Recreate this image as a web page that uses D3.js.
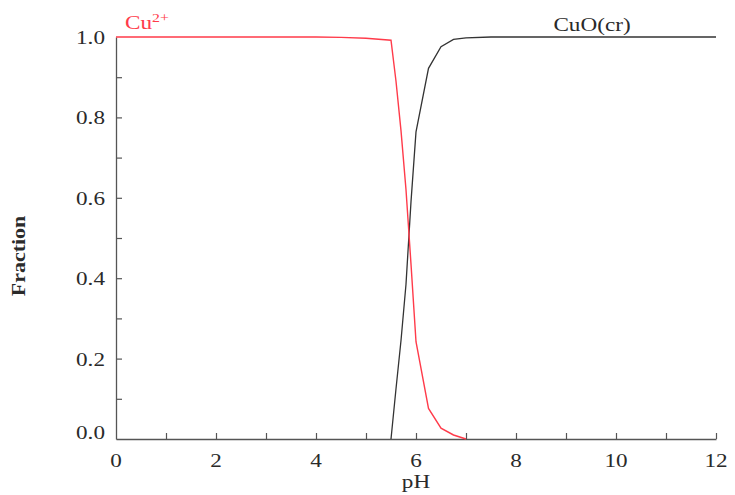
<!DOCTYPE html>
<html>
<head>
<meta charset="utf-8">
<script src="https://cdn.jsdelivr.net/npm/d3@7"></script>
<style>
  body { margin: 0; background: #fff; }
  svg { font-family: "Liberation Serif", "DejaVu Serif", serif; }
</style>
</head>
<body>
<div id="chart"></div>
<script>
// species fractions
var cuIonPH   = [0, 1, 2, 3, 4, 4.5, 5, 5.5, 5.6, 5.7, 5.8, 5.9, 6.0, 6.25, 6.5, 6.75, 7.0];
var cuIonFrac = [1, 1, 1, 1, 1, 0.999, 0.997, 0.992, 0.89, 0.767, 0.62, 0.435, 0.242, 0.076, 0.027, 0.01, 0.0];

var cuoPH   = [5.5, 5.6, 5.7, 5.8, 5.9, 6.0, 6.25, 6.5, 6.75, 7.0, 7.5, 8, 9, 10, 11, 12];
var cuoFrac = [0.0, 0.125, 0.245, 0.385, 0.59, 0.764, 0.922, 0.976, 0.994, 0.998, 1, 1, 1, 1, 1, 1];

var xTicks = [0, 1, 2, 3, 4, 5, 6, 7, 8, 9, 10, 11, 12];
var xLabels = [0, 2, 4, 6, 8, 10, 12];
var yTicks = [0, 0.1, 0.2, 0.3, 0.4, 0.5, 0.6, 0.7, 0.8, 0.9, 1.0];
var yLabels = [0, 0.2, 0.4, 0.6, 0.8, 1.0];

var W = 735, H = 495;
var margin = {top: 37, right: 19, bottom: 56, left: 116};
var width = W - margin.left - margin.right,
    height = H - margin.top - margin.bottom;
var sx = 1.22; // the original text looks stretched sideways

var svg = d3.select("#chart")
    .append("svg")
    .attr("width", W)
    .attr("height", H);

var g = svg.append("g")
    .attr("transform", "translate(" + margin.left + "," + margin.top + ")");

var x = d3.scaleLinear()
    .domain([0, 12])
    .range([0, width]);

var y = d3.scaleLinear()
    .domain([0, 1])
    .range([height, 0]);

function put(px, py, rot) {
    return "translate(" + px + "," + py + ")" + (rot ? " rotate(" + rot + ")" : "") + " scale(" + sx + ",1)";
}

// axes, ticks pointing inward
var xAxis = g.append("g")
    .attr("transform", "translate(0," + height + ")")
    .call(d3.axisBottom(x).tickValues(xTicks).tickSize(-6).tickSizeOuter(0).tickFormat(""));
xAxis.select(".domain").attr("stroke", "#555").attr("stroke-width", 1.3);
xAxis.selectAll(".tick line").attr("stroke", "#555").attr("stroke-width", 1.2);
xAxis.selectAll(".tick").filter(function(d){ return d === 0; }).remove();

var yAxis = g.append("g")
    .call(d3.axisLeft(y).tickValues(yTicks).tickSize(-6).tickSizeOuter(0).tickFormat(""));
yAxis.select(".domain").attr("stroke", "#555").attr("stroke-width", 1.3);
yAxis.selectAll(".tick line").attr("stroke", "#555").attr("stroke-width", 1.2);
yAxis.selectAll(".tick").filter(function(d){ return d === 0 || d === 1; }).remove();

g.selectAll(".xlab")
    .data(xLabels)
    .enter().append("text")
    .attr("transform", function(d){ return put(x(d), height + 28); })
    .attr("text-anchor", "middle")
    .style("font-size", "19px")
    .style("fill", "#2a2a2a")
    .text(function(d){ return d; });

g.selectAll(".ylab")
    .data(yLabels)
    .enter().append("text")
    .attr("transform", function(d){ return put(-11, y(d) + (d === 0 ? 0 : 7)); })
    .attr("text-anchor", "end")
    .style("font-size", "19px")
    .style("fill", "#2a2a2a")
    .text(function(d){ return d.toFixed(1); });

g.append("text")
    .attr("transform", put(x(6), height + 49))
    .attr("text-anchor", "middle")
    .style("font-size", "19px")
    .style("fill", "#2a2a2a")
    .text("pH");

g.append("text")
    .attr("transform", put(-91, 219, -90))
    .attr("text-anchor", "middle")
    .style("font-size", "18px")
    .style("font-weight", "bold")
    .style("fill", "#2a2a2a")
    .text("Fraction");

var line = d3.line()
    .x(function(d){ return x(d[0]); })
    .y(function(d){ return y(d[1]); });

var cuIon = d3.zip(cuIonPH, cuIonFrac);
var cuo = d3.zip(cuoPH, cuoFrac);

g.append("path")
    .datum(cuo)
    .attr("d", line)
    .style("fill", "none")
    .style("stroke", "#333")
    .style("stroke-width", "1.3px");

g.append("path")
    .datum(cuIon)
    .attr("d", line)
    .style("fill", "none")
    .style("stroke", "#ff3b4a")
    .style("stroke-width", "1.4px");

// species labels
var lab1 = g.append("text")
    .attr("transform", put(9, -8))
    .style("font-size", "19px")
    .style("fill", "#ff3b4a");
lab1.append("tspan").text("Cu");
lab1.append("tspan")
    .attr("dy", -7)
    .style("font-size", "13px")
    .text("2+");

g.append("text")
    .attr("transform", put(x(9.52), -6))
    .attr("text-anchor", "middle")
    .style("font-size", "19px")
    .style("fill", "#2a2a2a")
    .text("CuO(cr)");
</script>
</body>
</html>
